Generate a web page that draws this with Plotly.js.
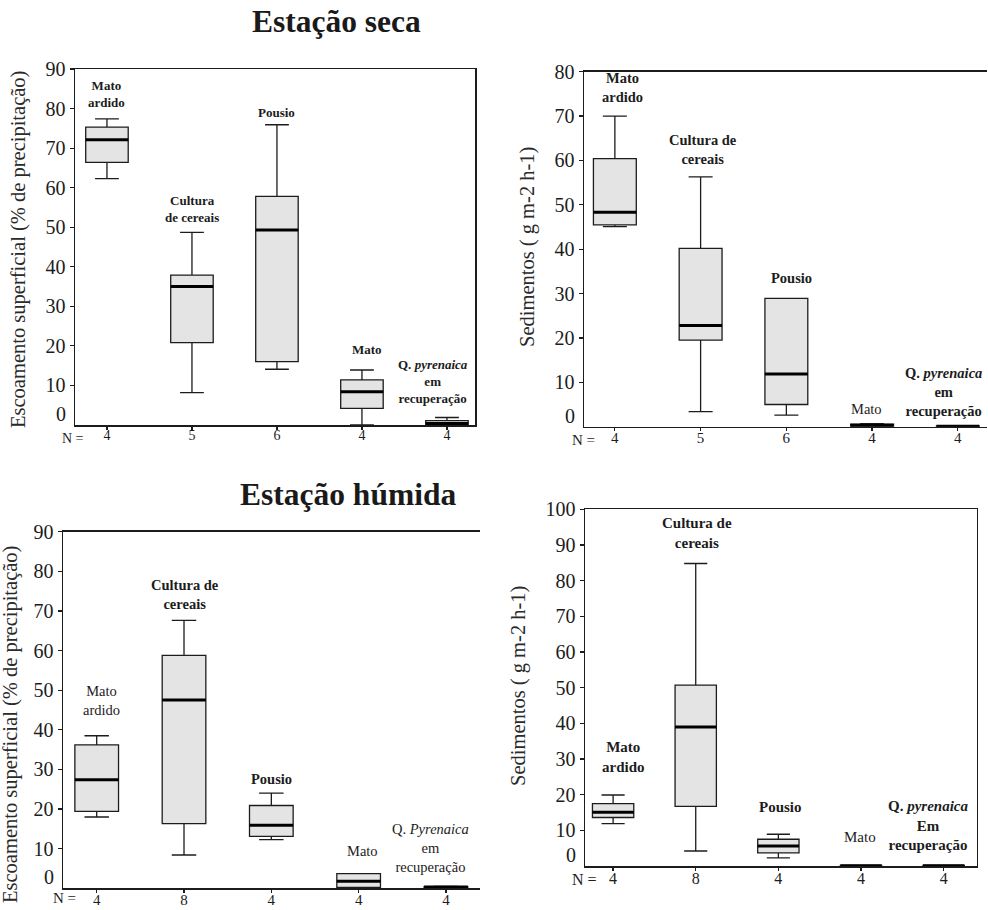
<!DOCTYPE html>
<html>
<head>
<meta charset="utf-8">
<script src="https://cdn.plot.ly/plotly-3.0.1.min.js"></script>
<style>html,body{margin:0;padding:0;background:#fff;}#chart{width:988px;height:910px;}</style>
</head>
<body>
<div id="chart"></div>
<script>
// ---------- DATA ----------
const positions = [0, 1, 2, 3, 4];

// Estação seca – Escoamento superficial
const secaEscN      = [4, 5, 6, 4, 4];
const secaEscLower  = [62.3, 8.2, 14.1, 0, 0];
const secaEscQ1     = [66.4, 20.8, 16.0, 4.2, 0];
const secaEscMedian = [72.1, 35.0, 49.3, 8.4, 0.4];
const secaEscQ3     = [75.3, 37.9, 57.8, 11.4, 1.1];
const secaEscUpper  = [77.4, 48.7, 75.9, 13.9, 1.9];

// Estação seca – Sedimentos
const secaSedN      = [4, 5, 6, 4, 4];
const secaSedLower  = [45.1, 3.4, 2.6, 0, 0];
const secaSedQ1     = [45.5, 19.5, 5.0, 0.1, 0];
const secaSedMedian = [48.3, 22.8, 11.9, 0.3, 0.1];
const secaSedQ3     = [60.4, 40.2, 28.9, 0.6, 0.15];
const secaSedUpper  = [70.0, 56.3, 28.9, 0.7, 0.2];

// Estação húmida – Escoamento superficial
const humEscN      = [4, 8, 4, 4, 4];
const humEscLower  = [18.0, 8.4, 12.3, 0, 0];
const humEscQ1     = [19.4, 16.3, 13.1, 0.2, 0.1];
const humEscMedian = [27.4, 47.5, 15.9, 1.8, 0.3];
const humEscQ3     = [36.2, 58.8, 20.9, 3.7, 0.4];
const humEscUpper  = [38.5, 67.6, 24.0, 3.7, 0.5];

// Estação húmida – Sedimentos
const humSedN      = [4, 8, 4, 4, 4];
const humSedLower  = [11.9, 4.2, 2.3, 0, 0];
const humSedQ1     = [13.6, 16.7, 3.7, 0.05, 0.05];
const humSedMedian = [15.1, 39.0, 5.6, 0.1, 0.1];
const humSedQ3     = [17.5, 50.7, 7.5, 0.15, 0.15];
const humSedUpper  = [19.9, 84.8, 8.9, 0.2, 0.2];

// Category labels
const labelsSecaEsc = ['Mato<br>ardido', 'Cultura<br>de cereais', 'Pousio', 'Mato', 'Q. <i>pyrenaica</i><br>em<br>recuperação'];
const labelsSecaSed = ['Mato<br>ardido', 'Cultura de<br>cereais', 'Pousio', 'Mato', 'Q. <i>pyrenaica</i><br>em<br>recuperação'];
const labelsHumEsc  = ['Mato<br>ardido', 'Cultura de<br>cereais', 'Pousio', 'Mato', 'Q. <i>Pyrenaica</i><br>em<br>recuperação'];
const labelsHumSed  = ['Mato<br>ardido', 'Cultura de<br>cereais', 'Pousio', 'Mato', 'Q. <i>pyrenaica</i><br>Em<br>recuperação'];

const titleSeca = 'Estação seca';
const titleHum  = 'Estação húmida';
const yTitleEsc = 'Escoamento superficial (% de precipitação)';
const yTitleSed = 'Sedimentos ( g m-2 h-1)';

// ---------- LAYOUT HELPERS ----------
const W = 988, H = 910;
const px = v => v / W;
const py = v => 1 - v / H;
const SERIF = 'Liberation Serif';
const INK = '#1c1c1c';
const FILL = '#e4e4e4';

const panels = [
  { key: '', n: secaEscN, lo: secaEscLower, q1: secaEscQ1, med: secaEscMedian, q3: secaEscQ3, hi: secaEscUpper,
    labels: labelsSecaEsc, lpos: [[0, 83.6], [1, 54.6], [2, 79.1], [3.06, 19.2], [3.84, 11.0]], lbold: [1,1,1,1,1], lsize: 13,
    left: 75, right: 475, top: 69, bottom: 425, xr: [-0.376, 4.33], ymax: 90, mirrorX: true, mirrorY: true,
    xtick: 14, nx: 73, ny: 438, ytitle: yTitleEsc, ytx: 18, yty: 250 },
  { key: '2', n: secaSedN, lo: secaSedLower, q1: secaSedQ1, med: secaSedMedian, q3: secaSedQ3, hi: secaSedUpper,
    labels: labelsSecaSed, lpos: [[0.09, 76.4], [1.03, 62.4], [2.06, 33.5], [2.93, 4.1], [3.83, 7.9]], lbold: [1,1,1,0,1], lsize: 14.5,
    left: 584, right: 987, top: 71.7, bottom: 426.7, xr: [-0.36, 4.34], ymax: 80, mirrorX: true, mirrorY: false,
    xtick: 15, nx: 583, ny: 440, ytitle: yTitleSed, ytx: 528, yty: 247 },
  { key: '3', n: humEscN, lo: humEscLower, q1: humEscQ1, med: humEscMedian, q3: humEscQ3, hi: humEscUpper,
    labels: labelsHumEsc, lpos: [[0.06, 47.3], [1.01, 74.1], [2.0, 27.6], [3.04, 9.5], [3.82, 10.2]], lbold: [0,1,1,0,0], lsize: 14.5,
    left: 63, right: 480, top: 531.7, bottom: 888.3, xr: [-0.386, 4.39], ymax: 90, mirrorX: true, mirrorY: false,
    xtick: 15, nx: 64, ny: 898, ytitle: yTitleEsc, ytx: 10, yty: 725 },
  { key: '4', n: humSedN, lo: humSedLower, q1: humSedQ1, med: humSedMedian, q3: humSedQ3, hi: humSedUpper,
    labels: labelsHumSed, lpos: [[0.13, 30.6], [1.02, 93.3], [2.03, 16.5], [2.99, 8.1], [3.81, 11.4]], lbold: [1,1,1,0,1], lsize: 15,
    left: 585, right: 976.7, top: 509.3, bottom: 866, xr: [-0.34, 4.4], ymax: 100, mirrorX: true, mirrorY: true,
    xtick: 16, nx: 584, ny: 879, ytitle: yTitleSed, ytx: 518, yty: 686 }
];

const traces = [];
const layout = {
  width: W, height: H,
  margin: { l: 0, r: 0, t: 0, b: 0 },
  paper_bgcolor: '#fff', plot_bgcolor: '#fff',
  showlegend: false,
  boxmode: 'overlay',
  font: { family: SERIF, color: INK },
  annotations: []
};

panels.forEach(p => {
  const xa = 'x' + p.key, ya = 'y' + p.key;
  traces.push({
    type: 'box', xaxis: xa, yaxis: ya,
    x: positions, q1: p.q1, median: p.med, q3: p.q3, lowerfence: p.lo, upperfence: p.hi,
    width: 0.5, whiskerwidth: 0.56, boxpoints: false,
    fillcolor: FILL, line: { color: INK, width: 1.3 },
    hoverinfo: 'skip'
  });
  // thick median line
  traces.push({
    type: 'box', xaxis: xa, yaxis: ya,
    x: positions, q1: p.med, median: p.med, q3: p.med, lowerfence: p.med, upperfence: p.med,
    width: 0.5, whiskerwidth: 0, boxpoints: false,
    fillcolor: 'rgba(0,0,0,0)', line: { color: '#000', width: 3 },
    hoverinfo: 'skip'
  });

  const ytv = [];
  for (let v = 10; v <= p.ymax; v += 10) ytv.push(v);

  layout['xaxis' + p.key] = {
    domain: [px(p.left), px(p.right)], anchor: ya,
    range: p.xr, type: 'linear',
    tickvals: positions, ticktext: p.n.map(String),
    ticks: 'outside', ticklen: 3, tickwidth: 1.2, tickcolor: INK,
    ticklabelstandoff: -6,
    showgrid: false, zeroline: false,
    showline: true, linecolor: INK, linewidth: 1.5, mirror: p.mirrorX,
    tickfont: { family: SERIF, size: p.xtick, color: INK }
  };
  layout['yaxis' + p.key] = {
    domain: [py(p.bottom), py(p.top)], anchor: xa,
    range: [0, p.ymax],
    tickvals: ytv,
    ticks: 'outside', ticklen: 4, tickwidth: 1.2, tickcolor: INK,
    showgrid: false, zeroline: false,
    showline: true, linecolor: INK, linewidth: 1.5, mirror: p.mirrorY,
    tickfont: { family: SERIF, size: 20, color: INK }
  };

  // "0" tick label, drawn a little above the axis as in the original
  layout.annotations.push({
    xref: 'paper', yref: ya, x: px(p.left - 7), y: 0, xanchor: 'right', yanchor: 'middle',
    yshift: 11, text: '0', showarrow: false, font: { family: SERIF, size: 20, color: INK }
  });
  layout.annotations.push({
    xref: 'paper', yref: 'paper', x: px(p.nx), y: py(p.ny), xanchor: 'center', yanchor: 'middle',
    text: 'N =', showarrow: false, font: { family: SERIF, size: p.xtick, color: INK }
  });
  layout.annotations.push({
    xref: 'paper', yref: 'paper', x: px(p.ytx), y: py(p.yty), xanchor: 'center', yanchor: 'middle',
    textangle: -90, text: p.ytitle, showarrow: false, font: { family: SERIF, size: 20.5, color: '#2a2a2a' }
  });
  p.labels.forEach((t, i) => {
    layout.annotations.push({
      xref: xa, yref: ya, x: p.lpos[i][0], y: p.lpos[i][1], xanchor: 'center', yanchor: 'middle',
      text: p.lbold[i] ? '<b>' + t + '</b>' : t, showarrow: false, align: 'center',
      font: { family: SERIF, size: p.lsize, color: INK }
    });
  });
});

layout.annotations.push({
  xref: 'paper', yref: 'paper', x: px(336), y: py(21), xanchor: 'center', yanchor: 'middle',
  text: '<b>' + titleSeca + '</b>', showarrow: false, font: { family: SERIF, size: 31.5, color: '#1a1a1a' }
});
layout.annotations.push({
  xref: 'paper', yref: 'paper', x: px(348), y: py(495), xanchor: 'center', yanchor: 'middle',
  text: '<b>' + titleHum + '</b>', showarrow: false, font: { family: SERIF, size: 31.5, color: '#1a1a1a' }
});

Plotly.newPlot('chart', traces, layout, { staticPlot: true, displayModeBar: false });
</script>
</body>
</html>
